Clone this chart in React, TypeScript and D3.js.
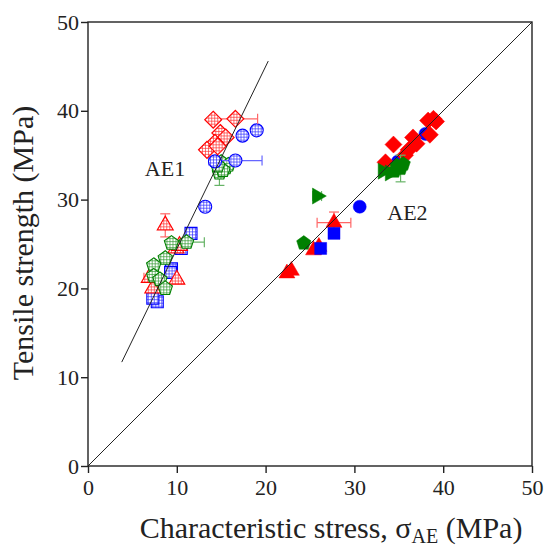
import { useEffect, useRef } from 'react';
import * as d3 from 'd3';

// axis ticks
const xTicks = [0, 10, 20, 30, 40, 50];
const yTicks = [0, 10, 20, 30, 40, 50];

// AE1 group (open, hatched markers) -- [x, y, xErr, yErr]
const ae1RedDiamonds = [
  [14.1, 39.0, 0, 0], [16.6, 39.1, 2.5, 0], [14.9, 37.5, 0, 0], [15.5, 37.0, 0, 0],
  [14.3, 36.4, 0, 0], [13.4, 35.6, 0, 0], [14.6, 36.0, 0, 0],
];
const ae1BlueCircles = [
  [19.0, 37.8, 0, 0], [17.4, 37.2, 0, 0], [16.6, 34.4, 3.0, 0], [14.3, 34.3, 0, 0], [13.2, 29.2, 0, 0],
];
const ae1RedTriangles = [
  [8.7, 27.1, 0, 1.3], [10.0, 21.0, 0, 0], [7.3, 20.0, 0, 0], [6.9, 21.2, 0.6, 0],
  [9.9, 24.5, 0, 0], [10.3, 24.8, 0, 0],
];
const ae1BlueSquares = [
  [11.6, 26.2, 0, 0], [10.5, 24.5, 0, 0], [9.4, 22.2, 0, 0], [7.8, 18.5, 0, 0],
  [7.3, 18.9, 0, 0], [9.3, 21.8, 0, 0],
];
const ae1GreenPentagons = [
  [15.0, 34.2, 0, 0], [15.5, 33.6, 0, 0], [14.8, 33.0, 0, 1.4], [15.8, 33.9, 0, 0],
  [15.2, 33.3, 0, 0], [14.6, 33.8, 0, 0], [9.4, 25.1, 0, 0], [11.1, 25.2, 2.0, 0],
  [8.7, 23.4, 0, 0], [7.4, 22.6, 0, 0], [7.4, 21.4, 0, 0], [8.1, 21.0, 0, 0], [8.7, 20.0, 0, 0],
];

// AE2 group (filled markers)
const ae2RedTriangles = [
  [22.4, 21.7, 0, 0], [22.9, 22.0, 0, 0], [25.4, 24.3, 0, 0], [26.0, 24.7, 0, 0], [27.7, 27.4, 1.9, 1.2],
];
const ae2BlueSquares = [[26.2, 24.5, 0, 0], [27.7, 26.2, 0, 0]];
const ae2GreenPentagons = [
  [24.3, 25.1, 0, 0], [34.8, 33.8, 0, 0], [35.2, 33.5, 0, 1.5], [34.5, 33.2, 0, 0], [35.5, 34.0, 0, 0],
];
const ae2GreenRightTriangles = [[25.8, 30.4, 0.5, 0], [33.2, 33.2, 0, 0], [34.0, 33.0, 0, 0]];
const ae2BlueCircles = [[30.6, 29.2, 0, 0], [38.0, 37.4, 0, 0], [34.9, 34.3, 0, 0]];
const ae2RedDiamonds = [
  [38.9, 39.1, 0, 0], [38.3, 38.9, 0, 0], [39.2, 38.8, 0, 0], [38.5, 37.3, 0, 0],
  [36.6, 37.0, 0, 0], [34.4, 36.2, 0, 0], [36.1, 35.6, 0, 0], [35.7, 35.0, 0, 0],
  [33.5, 34.2, 0, 0], [37.0, 36.3, 0, 0],
];

// fit lines
const ae1Line = [[3.8, 11.7], [20.3, 45.6]];
const ae2Line = [[0, 0], [50, 50]];

const RED = '#ff0000';
const BLUE = '#0000ff';
const GREEN = '#008000';

const pentagon = (r: number) => {
  const pts = d3.range(5).map(i => {
    const a = -Math.PI / 2 + (i * 2 * Math.PI) / 5;
    return [r * Math.cos(a), r * Math.sin(a)];
  });
  return 'M' + pts.map(p => p.join(',')).join('L') + 'Z';
};
const triangle = (s: number) => {
  const h = (s * Math.sqrt(3)) / 2;
  return `M0,${-h * 2 / 3}L${s / 2},${h / 3}L${-s / 2},${h / 3}Z`;
};
const shapes: Record<string, string> = {
  diamond: 'M0,-8.5L8.5,0L0,8.5L-8.5,0Z',
  circle: d3.symbol(d3.symbolCircle, Math.PI * 6.5 * 6.5)() as string,
  square: 'M-6,-6L6,-6L6,6L-6,6Z',
  triangle: triangle(16),
  pentagon: pentagon(7.5),
};

const App = () => {
  const ref = useRef<SVGSVGElement>(null);

  useEffect(() => {
    const svg = d3.select(ref.current);
    svg.selectAll('*').remove();

    const x = d3.scaleLinear().domain([0, 50]).range([88, 532]);
    const y = d3.scaleLinear().domain([0, 50]).range([466, 22]);
    const font = '"Liberation Serif", "Times New Roman", serif';

    // hatch patterns for open markers
    const defs = svg.append('defs');
    [['r', RED], ['b', BLUE], ['g', GREEN]].forEach(([id, c]) => {
      const p = defs.append('pattern').attr('id', 'hatch-' + id)
        .attr('patternUnits', 'userSpaceOnUse').attr('width', 3).attr('height', 3);
      p.append('rect').attr('width', 3).attr('height', 3).attr('fill', 'white');
      p.append('path').attr('d', 'M0,1.5H3M1.5,0V3')
        .attr('stroke', c).attr('stroke-width', 0.7).attr('opacity', 0.8);
    });

    const drawSeries = (data: number[][], shape: string, color: string, filled: boolean, hatch: string, rotate = 0) => {
      const g = svg.append('g');
      const errColor = d3.interpolateRgb(color, 'white')(0.4);
      data.forEach(([dx, dy, ex, ey]) => {
        const eg = g.append('g').attr('stroke', errColor).attr('stroke-width', 1.2);
        if (ex > 0) {
          eg.append('line').attr('x1', x(dx - ex)).attr('x2', x(dx + ex)).attr('y1', y(dy)).attr('y2', y(dy));
          [dx - ex, dx + ex].forEach(v => eg.append('line').attr('x1', x(v)).attr('x2', x(v)).attr('y1', y(dy) - 5).attr('y2', y(dy) + 5));
        }
        if (ey > 0) {
          eg.append('line').attr('x1', x(dx)).attr('x2', x(dx)).attr('y1', y(dy - ey)).attr('y2', y(dy + ey));
          [dy - ey, dy + ey].forEach(v => eg.append('line').attr('x1', x(dx) - 5).attr('x2', x(dx) + 5).attr('y1', y(v)).attr('y2', y(v)));
        }
      });
      g.selectAll('path.m').data(data).join('path').attr('class', 'm')
        .attr('d', shapes[shape])
        .attr('transform', d => `translate(${x(d[0])},${y(d[1])}) rotate(${rotate})`)
        .attr('fill', filled ? color : `url(#hatch-${hatch})`)
        .attr('stroke', color)
        .attr('stroke-width', filled ? 0.5 : 1.1);
    };

    // AE1
    drawSeries(ae1BlueSquares, 'square', BLUE, false, 'b');
    drawSeries(ae1RedTriangles, 'triangle', RED, false, 'r');
    drawSeries(ae1GreenPentagons, 'pentagon', GREEN, false, 'g');
    drawSeries(ae1BlueCircles, 'circle', BLUE, false, 'b');
    drawSeries(ae1RedDiamonds, 'diamond', RED, false, 'r');
    // AE2
    drawSeries(ae2RedTriangles, 'triangle', RED, true, 'r');
    drawSeries(ae2BlueSquares, 'square', BLUE, true, 'b');
    drawSeries(ae2BlueCircles, 'circle', BLUE, true, 'b');
    drawSeries(ae2RedDiamonds, 'diamond', RED, true, 'r');
    drawSeries(ae2GreenPentagons, 'pentagon', GREEN, true, 'g');
    drawSeries(ae2GreenRightTriangles, 'triangle', GREEN, true, 'g', 90);

    // fit lines
    const line = d3.line<number[]>().x(d => x(d[0])).y(d => y(d[1]));
    [ae1Line, ae2Line].forEach(l => {
      svg.append('path').attr('d', line(l)).attr('fill', 'none').attr('stroke', '#222').attr('stroke-width', 1);
    });

    // frame
    svg.append('rect').attr('x', 88).attr('y', 22).attr('width', 444).attr('height', 444)
      .attr('fill', 'none').attr('stroke', '#222').attr('stroke-width', 1.4);

    // axes
    const xAxis = svg.append('g').attr('transform', 'translate(0,466)')
      .call(d3.axisBottom(x).tickValues(xTicks).tickSize(7).tickPadding(6));
    const yAxis = svg.append('g').attr('transform', 'translate(88,0)')
      .call(d3.axisLeft(y).tickValues(yTicks).tickSize(7).tickPadding(2));
    [xAxis, yAxis].forEach(a => {
      a.select('.domain').remove();
      a.selectAll('line').attr('stroke', '#222').attr('stroke-width', 1.4);
      a.selectAll('text').attr('font-family', font).attr('font-size', 22).attr('fill', '#222');
    });

    // labels
    svg.append('text').attr('x', x(6.4)).attr('y', y(32.7)).attr('font-family', font)
      .attr('font-size', 22).attr('fill', '#222').text('AE1');
    svg.append('text').attr('x', x(33.7)).attr('y', y(27.7)).attr('font-family', font)
      .attr('font-size', 22).attr('fill', '#222').text('AE2');

    const xl = svg.append('text').attr('x', 331).attr('y', 538).attr('text-anchor', 'middle')
      .attr('font-family', font).attr('font-size', 30).attr('fill', '#222');
    xl.append('tspan').text('Characteristic stress, σ');
    xl.append('tspan').attr('font-size', 20).attr('dy', 5).text('AE');
    xl.append('tspan').attr('dy', -5).text(' (MPa)');

    svg.append('text').attr('transform', 'translate(33,243) rotate(-90)').attr('text-anchor', 'middle')
      .attr('font-family', font).attr('font-size', 30).attr('fill', '#222').text('Tensile strength (MPa)');
  }, []);

  return (
    <div style={{ position: 'absolute', left: 0, top: 0 }}>
      <svg ref={ref} width={546} height={548} style={{ display: 'block', background: 'white' }} />
    </div>
  );
};

export default App;
